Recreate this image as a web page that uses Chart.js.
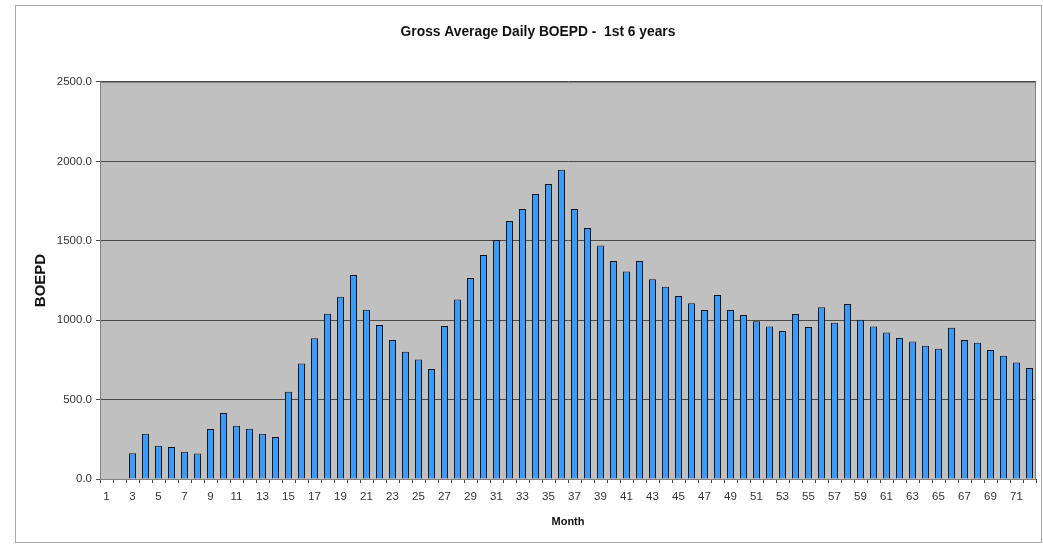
<!DOCTYPE html>
<html>
<head>
<meta charset="utf-8">
<script src="https://cdn.jsdelivr.net/npm/chart.js@4.4.1/dist/chart.umd.min.js"></script>
<style>
  html, body { margin: 0; padding: 0; background: #ffffff; }
  #wrap { width: 1043px; height: 548px; position: relative; }
</style>
</head>
<body>
<div id="wrap"><canvas id="c" width="1043" height="548"></canvas></div>
<script>
// Data
const months = Array.from({length: 72}, (_, i) => String(i + 1));
const boepd = [
  null, null, 162, 285, 210, 201, 172, 161, 315, 416,
  336, 317, 285, 265, 550, 728, 886, 1041, 1148, 1285,
  1066, 970, 875, 802, 753, 693, 963, 1131, 1266, 1411,
  1505, 1625, 1700, 1795, 1858, 1948, 1700, 1581, 1471, 1373,
  1306, 1373, 1257, 1211, 1152, 1106, 1064, 1159, 1064, 1033,
  993, 961, 932, 1039, 957, 1081, 984, 1102, 1003, 961,
  923, 888, 865, 839, 820, 953, 875, 858, 812, 776,
  734, 699
];
const yTicks = [0, 500, 1000, 1500, 2000, 2500];
const chartTitle = 'Gross Average Daily BOEPD -  1st 6 years';
const xTitle = 'Month';
const yTitle = 'BOEPD';

const framePlugin = {
  id: 'frame',
  beforeDraw(chart) {
    const ctx = chart.ctx;
    ctx.save();
    ctx.fillStyle = '#ffffff';
    ctx.fillRect(0, 0, chart.width, chart.height);
    ctx.strokeStyle = '#a8a8a8';
    ctx.lineWidth = 1;
    ctx.strokeRect(15.5, 5.5, 1026, 537);
    const a = chart.chartArea;
    ctx.fillStyle = '#c0c0c0';
    ctx.fillRect(a.left, a.top, a.right - a.left, a.bottom - a.top);
    ctx.restore();
  },
  afterDatasetsDraw(chart) {
    const ctx = chart.ctx;
    const a = chart.chartArea;
    ctx.save();
    ctx.strokeStyle = '#808080';
    ctx.lineWidth = 1;
    ctx.strokeRect(a.left + 0.5, a.top + 0.5, a.right - a.left - 1, a.bottom - a.top);
    ctx.restore();
  }
};

new Chart(document.getElementById('c'), {
  type: 'bar',
  data: {
    labels: months,
    datasets: [{
      data: boepd,
      backgroundColor: '#3a9bfa',
      borderColor: '#151515',
      borderWidth: 1,
      borderSkipped: 'start',
      barPercentage: 0.54,
      categoryPercentage: 1.0
    }]
  },
  options: {
    responsive: false,
    animation: false,
    devicePixelRatio: 1,
    layout: { padding: { left: 40, right: 7, top: 0, bottom: 20 } },
    plugins: {
      legend: { display: false },
      tooltip: { enabled: false },
      title: {
        display: true,
        text: chartTitle,
        color: '#111111',
        font: { family: 'Liberation Sans, Arial, sans-serif', size: 13.8, weight: 'bold' },
        padding: { top: 24, bottom: 41.4 }
      }
    },
    scales: {
      x: {
        type: 'category',
        offset: true,
        grid: {
          offset: true,
          drawOnChartArea: false,
          drawTicks: true,
          tickLength: 4,
          color: '#404040'
        },
        border: { display: true, color: '#303030', width: 1 },
        ticks: {
          autoSkip: false,
          maxRotation: 0,
          minRotation: 0,
          padding: 7,
          color: '#333333',
          font: { family: 'Liberation Sans, Arial, sans-serif', size: 11.5 },
          callback: function(value, index) {
            return index % 2 === 0 ? this.getLabelForValue(value) : '';
          }
        },
        title: {
          display: true,
          text: xTitle,
          color: '#111111',
          font: { family: 'Liberation Sans, Arial, sans-serif', size: 11, weight: 'bold' },
          padding: { top: 0, bottom: -1 }
        },
        afterFit(scale) { scale.height = 49; }
      },
      y: {
        min: 0,
        max: 2500,
        afterBuildTicks(scale) { scale.ticks = yTicks.map(v => ({ value: v })); },
        grid: {
          color: '#4a4a4a',
          lineWidth: 1,
          tickLength: 4,
          drawTicks: true
        },
        border: { display: true, color: '#707070', width: 1 },
        ticks: {
          padding: 4,
          color: '#333333',
          font: { family: 'Liberation Sans, Arial, sans-serif', size: 11.5 },
          callback: (v) => Number(v).toFixed(1)
        },
        title: {
          display: true,
          text: yTitle,
          color: '#111111',
          font: { family: 'Liberation Sans, Arial, sans-serif', size: 15, weight: 'bold' },
          padding: { top: -8.5, bottom: 0 }
        },
        afterFit(scale) { scale.width = 60; }
      }
    }
  },
  plugins: [framePlugin]
});
</script>
</body>
</html>
